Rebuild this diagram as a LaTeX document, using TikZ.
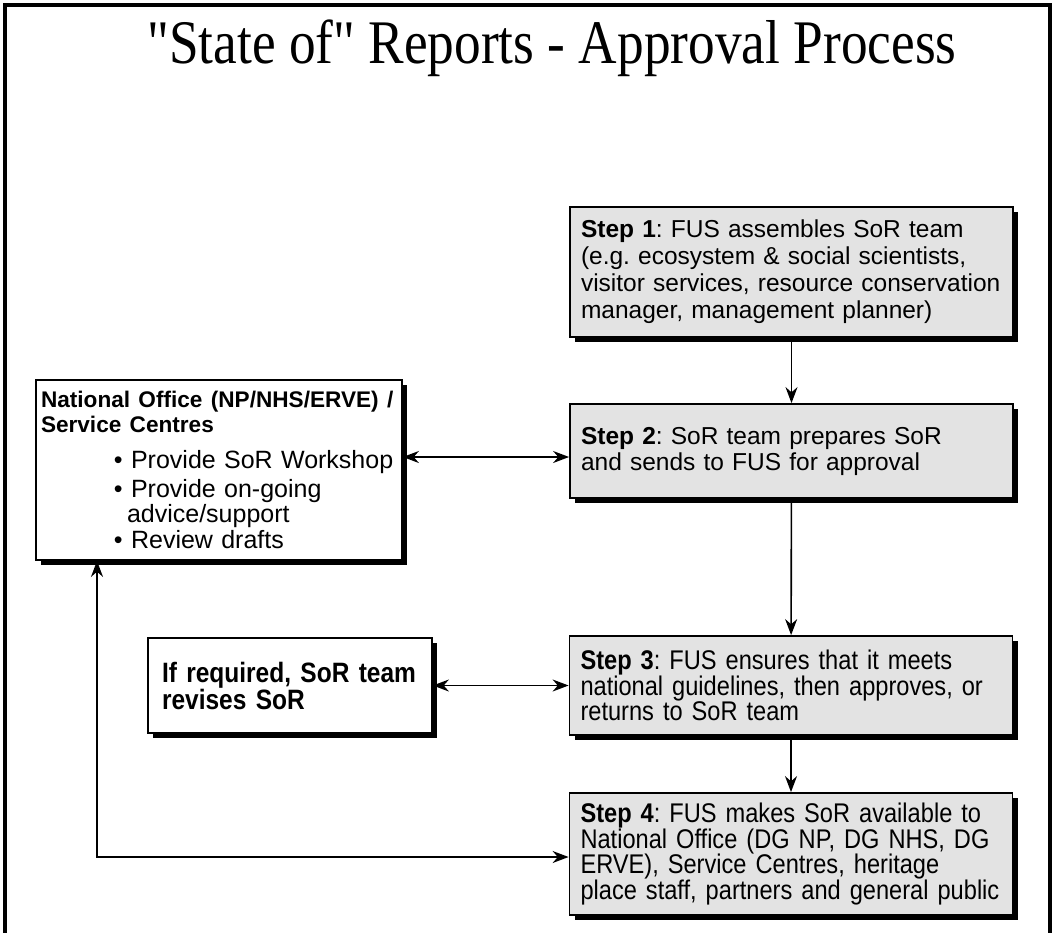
\documentclass[tikz,border=0pt]{standalone}
\usepackage{fontspec}
\setmainfont{Liberation Sans}
\newfontfamily\titlefont[FakeStretch=0.86]{Liberation Serif}
\newfontfamily\narrowfont[FakeStretch=0.875]{Liberation Sans}
\usetikzlibrary{arrows.meta,shadows}
\frenchspacing
\tikzset{
    step-box/.style = {draw=black, fill=black!11, line width=1.8pt, rectangle, inner xsep=11pt, inner ysep=4pt, align=left,
        minimum width=443pt, text width=421pt,
        drop shadow={shadow xshift=5pt, shadow yshift=-5pt, fill=black, opacity=1}},
    side-box/.style = {step-box, fill=white},
    link/.style = {line width=1.6pt, {Stealth[length=16pt,width=12pt]}-{Stealth[length=16pt,width=12pt]}},
    flow/.style = {line width=1.6pt, -{Stealth[length=16pt,width=12pt]}},
}

\begin{document}
\begin{tikzpicture}[x=1pt, y=-1pt]
\useasboundingbox (0,0) rectangle (1055,932);
\draw[line width=4pt] (5,934) -- (5,5) -- (1050,5) -- (1050,934);
\node[anchor=base, font=\titlefont\fontsize{62}{64}\selectfont] (title) at (552,63) {"State of" Reports - Approval Process};

\node[step-box, minimum height=130pt, font=\fontsize{24.5}{27}\selectfont] (step1) at (791.5,272) {\textbf{Step 1}: FUS assembles SoR team\\(e.g. ecosystem \& social scientists,\\visitor services, resource conservation\\manager, management planner)};
\node[step-box, minimum height=94pt, font=\fontsize{24.5}{26}\selectfont] (step2) at (791.5,451) {\textbf{Step 2}: SoR team prepares SoR\\and sends to FUS for approval};
\node[step-box, minimum height=99pt, font=\narrowfont\fontsize{27}{25}\selectfont] (step3) at (791,685.5) {\textbf{Step 3}: FUS ensures that it meets\\national guidelines, then approves, or\\returns to SoR team};
\node[step-box, minimum height=122pt, font=\narrowfont\fontsize{27}{25.5}\selectfont] (step4) at (791,854) {\textbf{Step 4}: FUS makes SoR available to\\National Office (DG NP, DG NHS, DG\\ERVE), Service Centres, heritage\\place staff, partners and general public};

\node[side-box, minimum width=366pt, inner xsep=5pt, text width=356pt, minimum height=180pt, font=\fontsize{25}{25}\selectfont] (natoff) at (219,470) {{\fontsize{22.6}{25}\selectfont\bfseries National Office (NP/NHS/ERVE) /\\Service Centres}\\[11pt]
\hspace*{73pt}• Provide SoR Workshop\\[4pt]
\hspace*{73pt}• Provide on-going\\
\hspace*{86pt}advice/support\\[1pt]
\hspace*{73pt}• Review drafts};
\node[side-box, minimum width=284pt, inner xsep=14pt, text width=256pt, minimum height=95pt, font=\narrowfont\bfseries\fontsize{28}{27}\selectfont] (revise) at (290,685.5) {If required, SoR team\\revises SoR};

% flow down the steps
\draw[flow] (step1) -- (step2);
\draw[flow] (step2) -- (step3);
\draw[flow] (step3) -- (step4);

% links to the side boxes
\draw[link] (natoff.east |- 0,457) -- (step2.west |- 0,457);
\draw[link] (revise) -- (step3);
\coordinate (turn) at (97,857);
\draw[link] (turn |- natoff.south) -- (turn) -- (step4.west |- turn);
\end{tikzpicture}
\end{document}
